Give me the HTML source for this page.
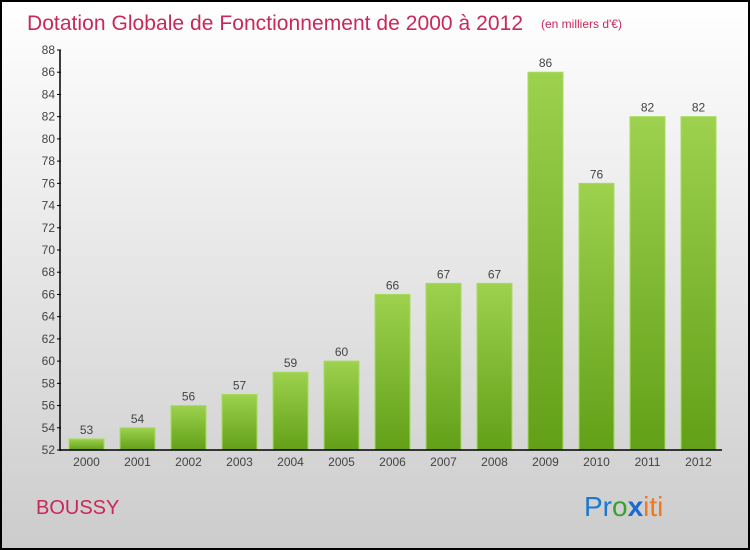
<!DOCTYPE html>
<html><head><meta charset="utf-8"><style>
body{margin:0;width:750px;height:550px;overflow:hidden}
svg{display:block;font-family:"Liberation Sans",sans-serif}
</style></head><body>
<svg width="750" height="550">
<defs>
<linearGradient id="bg" x1="0" y1="0" x2="0" y2="1"><stop offset="0" stop-color="#ffffff"/><stop offset="1" stop-color="#cccccc"/></linearGradient>
<linearGradient id="bar" x1="0" y1="0" x2="0" y2="1"><stop offset="0" stop-color="#9dd14e"/><stop offset="1" stop-color="#62a018"/></linearGradient>
</defs>
<rect x="1" y="1" width="748" height="548" fill="url(#bg)" stroke="#000" stroke-width="2"/>
<text x="27" y="30" font-size="21" fill="#c8285a" textLength="496">Dotation Globale de Fonctionnement de 2000 à 2012</text>
<text x="541" y="28" font-size="12" fill="#c8285a">(en milliers d'€)</text>
<g id="plot"></g>
<text x="36" y="514" font-size="20" fill="#c8285a">BOUSSY</text>
<text x="584" y="516" font-size="28"><tspan fill="#1a7ad0">Pr</tspan><tspan fill="#3aa030">o</tspan><tspan fill="#1a6ad0" font-weight="bold">x</tspan><tspan fill="#f07820">iti</tspan></text>
</svg>
<script>
const years=["2000","2001","2002","2003","2004","2005","2006","2007","2008","2009","2010","2011","2012"];
const values=[53,54,56,57,59,60,66,67,67,86,76,82,82];
const yTicks=[52,54,56,58,60,62,64,66,68,70,72,74,76,78,80,82,84,86,88];
const NS="http://www.w3.org/2000/svg";
const g=document.getElementById('plot');
const yMin=52,yMax=88,y0=450,y1=50;
function ys(v){return y0-(v-yMin)/(yMax-yMin)*(y0-y1);}
function xs(i){return 86.5+i*51;}
function el(t,a,txt){const e=document.createElementNS(NS,t);for(const k in a)e.setAttribute(k,a[k]);if(txt!==undefined)e.textContent=txt;g.appendChild(e);return e;}
yTicks.forEach(v=>{
 const l=el('line',{x1:57,x2:61,y1:ys(v),y2:ys(v),stroke:'#000'});
 
 
 const t=el('text',{x:55,y:ys(v)+4,'font-size':12,fill:'#444','text-anchor':'end'},v);
 
 
});
values.forEach((v,i)=>{
 const r=el('rect',{x:xs(i)-17.5,y:ys(v),width:35,height:y0-ys(v),fill:'url(#bar)',stroke:'#a8dc60','stroke-width':1});
 
 
 const t=el('text',{x:xs(i),y:ys(v)-5,'font-size':12,fill:'#444','text-anchor':'middle'},v);
 
 
 const xl=el('text',{x:xs(i),y:466,'font-size':12,fill:'#444','text-anchor':'middle'},years[i]);
 
 
});
const ya=el('line',{x1:60,x2:60,y1:50,y2:451,stroke:'#000','stroke-width':1.5});


const xa=el('line',{x1:60,x2:722,y1:450,y2:450,stroke:'#000','stroke-width':1.5});


</script>
</body></html>
